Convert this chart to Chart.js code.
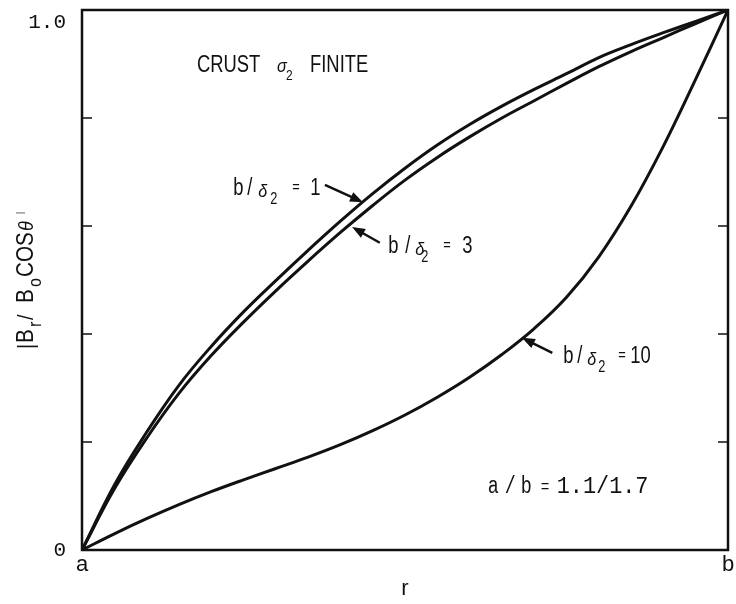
<!DOCTYPE html>
<html>
<head>
<meta charset="utf-8">
<title>Crust field profile</title>
<script src="https://cdn.jsdelivr.net/npm/chart.js@4.4.1/dist/chart.umd.min.js"></script>
<style>
  html, body { margin: 0; padding: 0; background: #fff; }
  canvas { display: block; }
</style>
</head>
<body>
<canvas id="fieldChart" width="736" height="604"></canvas>
<script>
// normalised radius from a (0) to b (1)
const rValues = [0, 0.05, 0.1, 0.15, 0.2, 0.25, 0.3, 0.35, 0.4, 0.45, 0.5,
                 0.55, 0.6, 0.65, 0.7, 0.75, 0.8, 0.85, 0.9, 0.95, 1];

// |Br / B0 cos θ| for each skin-depth ratio
const ratio1 = [0, 0.12, 0.218, 0.305, 0.377, 0.441, 0.499, 0.555, 0.609, 0.66, 0.707,
                0.75, 0.788, 0.822, 0.853, 0.882, 0.912, 0.936, 0.958, 0.979, 1];
const ratio3 = [0, 0.113, 0.207, 0.29, 0.36, 0.422, 0.48, 0.535, 0.588, 0.638, 0.685,
                0.727, 0.765, 0.8, 0.832, 0.864, 0.895, 0.923, 0.949, 0.975, 1];
const ratio10 = [0, 0.03, 0.058, 0.084, 0.108, 0.13, 0.151, 0.172, 0.195, 0.221, 0.25,
                 0.283, 0.32, 0.362, 0.41, 0.468, 0.543, 0.637, 0.748, 0.872, 1];

const yTicks = [0, 0.2, 0.4, 0.6, 0.8, 1.0];
const xTickLabels = ['a', 'b'];

const INK = '#111';
const SANS = "'Liberation Sans', 'DejaVu Sans', sans-serif";
const MONO = "'Liberation Mono', 'DejaVu Sans Mono', monospace";

function toPoints(ys) {
    return rValues.map((r, i) => ({ x: r, y: ys[i] }));
}

function curve(label, ys) {
    return {
        label: label,
        data: toPoints(ys),
        borderColor: INK,
        borderWidth: 3,
        pointRadius: 0,
        fill: false,
        tension: 0.4
    };
}

// draw a list of text pieces: [text, dx, dy, size, family, squeeze, italic]
function drawRuns(ctx, runs, x0, y0) {
    runs.forEach(([text, dx, dy, size, family, squeeze, italic]) => {
        ctx.save();
        ctx.font = (italic ? 'italic ' : '') + size + 'px ' + (family || SANS);
        ctx.textAlign = 'left';
        ctx.textBaseline = 'alphabetic';
        ctx.translate(x0 + dx, y0 + (dy || 0));
        ctx.scale(squeeze || 0.8, 1);
        ctx.fillText(text, 0, 0);
        ctx.restore();
    });
}

function arrow(ctx, x1, y1, x2, y2) {
    const ang = Math.atan2(y2 - y1, x2 - x1);
    const c = Math.cos(ang), s = Math.sin(ang);
    ctx.beginPath();
    ctx.moveTo(x1, y1);
    ctx.lineTo(x2 - 8 * c, y2 - 8 * s);
    ctx.lineWidth = 2.5;
    ctx.stroke();
    ctx.beginPath();
    ctx.moveTo(x2, y2);
    ctx.lineTo(x2 - 13 * c + 5 * s, y2 - 13 * s - 5 * c);
    ctx.lineTo(x2 - 13 * c - 5 * s, y2 - 13 * s + 5 * c);
    ctx.closePath();
    ctx.fill();
}

// frame, inward ticks, labels and arrows
const figureDecor = {
    id: 'figureDecor',
    afterDraw(chart) {
        const { ctx, chartArea: a, scales: { x, y } } = chart;
        const px = v => x.getPixelForValue(v);
        const py = v => y.getPixelForValue(v);
        ctx.save();
        ctx.strokeStyle = INK;
        ctx.fillStyle = INK;

        ctx.lineWidth = 2.5;
        ctx.strokeRect(a.left, a.top, a.right - a.left, a.bottom - a.top);

        ctx.lineWidth = 1.5;
        yTicks.slice(1, -1).forEach(v => {
            ctx.beginPath();
            ctx.moveTo(a.left, py(v));
            ctx.lineTo(a.left + 10, py(v));
            ctx.moveTo(a.right - 10, py(v));
            ctx.lineTo(a.right, py(v));
            ctx.stroke();
        });

        // y axis title, rotated
        ctx.save();
        ctx.translate(33, py(0.5) + 67);
        ctx.rotate(-Math.PI / 2);
        drawRuns(ctx, [
            ['|', -2, 0, 22, SANS, 0.9],
            ['B', 4, 0, 23, SANS, 0.9],
            ['r', 20, 8, 18, SANS, 0.9],
            ['/', 27, 0, 22, SANS, 0.9],
            ['B', 44, 0, 23, SANS, 0.9],
            ['o', 60, 8, 18, SANS, 0.9],
            ['COS', 70, 0, 23, SANS, 0.9],
            ['θ', 116, 0, 20, SANS, 0.9, true],
            ['|', 133, -10, 9, SANS, 0.9]
        ], 0, 0);
        ctx.restore();

        drawRuns(ctx, [
            ['CRUST', 0, 0, 23],
            ['σ', 80, 0, 18, SANS, 0.9, true],
            ['2', 89, 8, 15],
            ['FINITE', 113, 0, 23]
        ], px(0.178), py(0.885));

        const ratioLabel = (num, x0, y0, off) => drawRuns(ctx, [
            ['b', 0, 0, 23],
            ['/', off[0], 0, 23],
            ['δ', off[1], 2, 19, SANS, 0.85, true],
            ['2', off[2], 9, 16],
            ['=', off[3], -3, 16],
            [num, off[4], 0, 23]
        ], x0, y0);

        ratioLabel('1', px(0.234), py(0.657), [14, 25, 37, 59, 77]);
        arrow(ctx, px(0.376), py(0.676), px(0.435), py(0.644));

        ratioLabel('3', px(0.474), py(0.55), [17, 27, 33, 55, 74]);
        arrow(ctx, px(0.461), py(0.569), px(0.418), py(0.598));

        ratioLabel('10', px(0.745), py(0.346), [14, 24, 35, 55, 67]);
        arrow(ctx, px(0.728), py(0.365), px(0.681), py(0.393));

        drawRuns(ctx, [
            ['a', 0, 0, 23, MONO, 0.8],
            ['/', 17, 0, 23, MONO, 0.8],
            ['b', 33, 0, 23, MONO, 0.8],
            ['=', 53, -1, 18, MONO, 0.8],
            ['1.1/1.7', 69, 0, 23, MONO, 0.95]
        ], px(0.628), py(0.106));

        ctx.restore();
    }
};

const ctx = document.getElementById('fieldChart').getContext('2d');

new Chart(ctx, {
    type: 'line',
    data: {
        datasets: [
            curve('b/δ2 = 1', ratio1),
            curve('b/δ2 = 3', ratio3),
            curve('b/δ2 = 10', ratio10)
        ]
    },
    options: {
        responsive: false,
        devicePixelRatio: 1,
        animation: false,
        layout: { padding: { top: 10, right: 8, left: 0, bottom: 0 } },
        plugins: {
            legend: { display: false },
            tooltip: { enabled: false }
        },
        scales: {
            x: {
                type: 'linear',
                min: 0,
                max: 1,
                grid: { display: false },
                border: { display: false },
                ticks: {
                    stepSize: 1,
                    maxRotation: 0,
                    padding: -6,
                    color: INK,
                    font: { family: SANS, size: 22 },
                    callback: v => xTickLabels[Math.round(v)]
                },
                title: {
                    display: true,
                    text: 'r',
                    color: INK,
                    font: { family: SANS, size: 22 },
                    padding: { top: 0, bottom: 2 }
                },
                afterFit: scale => {
                    scale.height = 54;
                    scale.paddingLeft = 0;
                    scale.paddingRight = 0;
                }
            },
            y: {
                min: 0,
                max: 1,
                grid: { display: false },
                border: { display: false },
                ticks: {
                    stepSize: 0.2,
                    padding: 8,
                    color: INK,
                    font: { family: MONO, size: 21 },
                    // the top label sits just under its tick
                    callback: v => (Math.abs(v) < 1e-6 ? '0' : Math.abs(v - 1) < 1e-6 ? ['', '1.0'] : '')
                },
                afterFit: scale => {
                    scale.width = 82;
                    scale.paddingTop = 0;
                    scale.paddingBottom = 0;
                }
            }
        }
    },
    plugins: [figureDecor]
});
</script>
</body>
</html>
